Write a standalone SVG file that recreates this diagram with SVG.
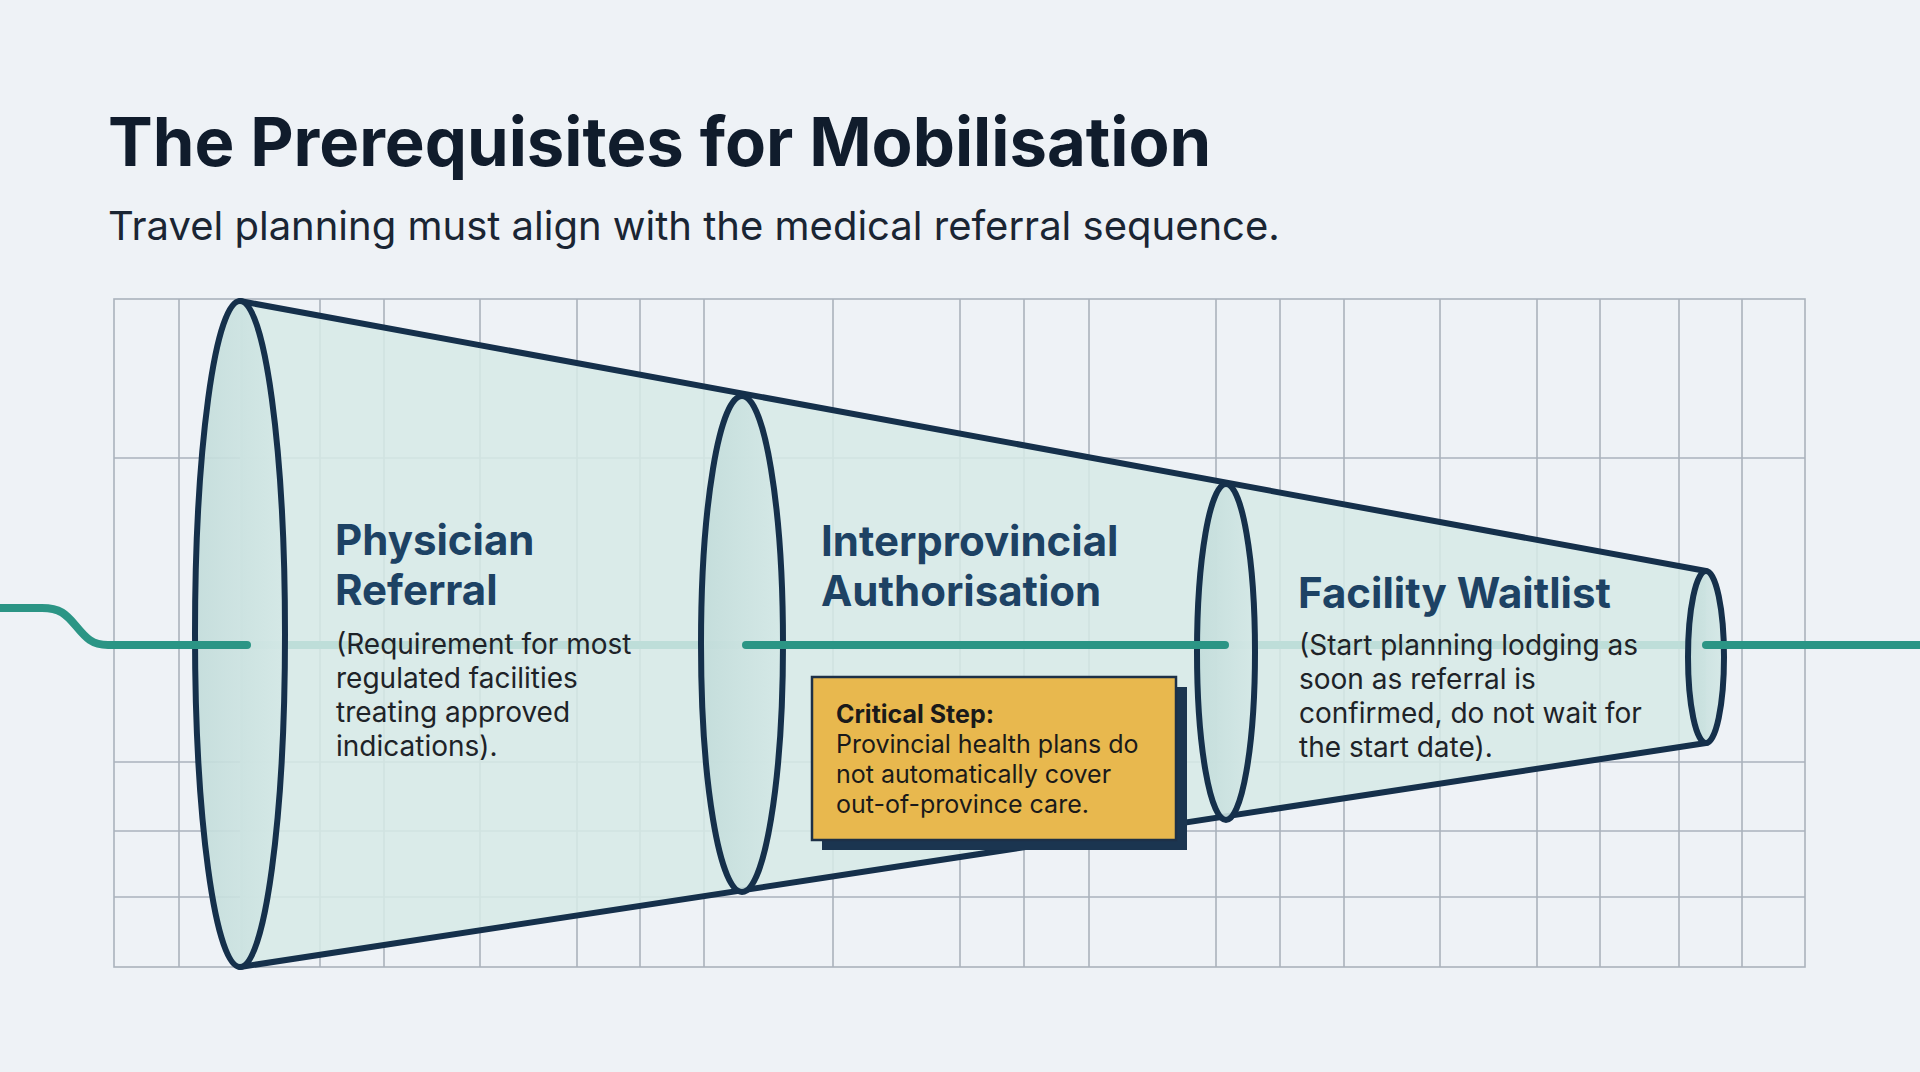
<svg xmlns="http://www.w3.org/2000/svg" width="1920" height="1072" viewBox="0 0 1920 1072">
  <defs>
    <linearGradient id="ellFill" x1="0" y1="0" x2="1" y2="0">
      <stop offset="0" stop-color="#c2dcda"/>
      <stop offset="1" stop-color="#d4e8e6"/>
    </linearGradient>
    <style>
      .bg { fill: #eef2f6; }
      .grid line, .grid rect { stroke: #aab2bc; stroke-width: 1.6; fill: none; }
      .cone { fill: #d6eae7; fill-opacity: 0.86; }
      .edge { stroke: #15304b; stroke-width: 6; stroke-linecap: round; fill: none; }
      .ring { fill: url(#ellFill); fill-opacity: 0.9; stroke: #15304b; stroke-width: 6; }
      .conn { stroke: #2b9585; stroke-width: 8; stroke-linecap: round; fill: none; }
      .title { font-family: Inter, "Liberation Sans", sans-serif; font-weight: 700; font-size: 67px; fill: #101c2c; }
      .subtitle { font-family: Inter, "Liberation Sans", sans-serif; font-weight: 400; font-size: 40px; fill: #1a2533; }
      .head { font-family: Inter, "Liberation Sans", sans-serif; font-weight: 700; font-size: 42px; fill: #1d4264; }
      .desc { font-family: Inter, "Liberation Sans", sans-serif; font-weight: 400; font-size: 28px; fill: #1e2328; }
      .callout-box { fill: #e8b84e; stroke: #1d3047; stroke-width: 2.5; }
      .callout-shadow { fill: #1b3550; }
      .callout-head { font-family: Inter, "Liberation Sans", sans-serif; font-weight: 700; font-size: 25px; fill: #1a1a1a; }
      .callout-text { font-family: Inter, "Liberation Sans", sans-serif; font-weight: 400; font-size: 25px; fill: #1a1a1a; }
    </style>
  </defs>

  <rect class="bg" x="0" y="0" width="1920" height="1072"/>

  <g id="title">
    <text class="title" x="108" y="166">The Prerequisites for Mobilisation</text>
    <text class="subtitle" x="108" y="240">Travel planning must align with the medical referral sequence.</text>
  </g>

  <g id="grid" class="grid">
    <rect x="114" y="299" width="1691" height="668"/>
    <line x1="179" y1="299" x2="179" y2="967"/>
    <line x1="242" y1="299" x2="242" y2="967"/>
    <line x1="320" y1="299" x2="320" y2="967"/>
    <line x1="384" y1="299" x2="384" y2="967"/>
    <line x1="480" y1="299" x2="480" y2="967"/>
    <line x1="577" y1="299" x2="577" y2="967"/>
    <line x1="640" y1="299" x2="640" y2="967"/>
    <line x1="704" y1="299" x2="704" y2="967"/>
    <line x1="833" y1="299" x2="833" y2="967"/>
    <line x1="960" y1="299" x2="960" y2="967"/>
    <line x1="1024" y1="299" x2="1024" y2="967"/>
    <line x1="1089" y1="299" x2="1089" y2="967"/>
    <line x1="1216" y1="299" x2="1216" y2="967"/>
    <line x1="1280" y1="299" x2="1280" y2="967"/>
    <line x1="1344" y1="299" x2="1344" y2="967"/>
    <line x1="1440" y1="299" x2="1440" y2="967"/>
    <line x1="1537" y1="299" x2="1537" y2="967"/>
    <line x1="1600" y1="299" x2="1600" y2="967"/>
    <line x1="1679" y1="299" x2="1679" y2="967"/>
    <line x1="1742" y1="299" x2="1742" y2="967"/>
    <line x1="114" y1="458" x2="1805" y2="458"/>
    <line x1="114" y1="762" x2="1805" y2="762"/>
    <line x1="114" y1="831" x2="1805" y2="831"/>
    <line x1="114" y1="897" x2="1805" y2="897"/>
  </g>

  <g id="funnel">
    <line x1="247" y1="645" x2="1706" y2="645" stroke="#2b9585" stroke-width="8"/>
    <polygon class="cone" points="240,301 1706,571 1706,743 240,967"/>
    <line class="edge" x1="240" y1="301" x2="1706" y2="571"/>
    <line class="edge" x1="240" y1="967" x2="1706" y2="743"/>
  </g>

  <g id="node-physician-referral">
    <ellipse class="ring" cx="240" cy="634" rx="45" ry="333"/>
    <text class="head" x="335" y="555">Physician</text>
    <text class="head" x="335" y="605">Referral</text>
    <text class="desc" x="336" y="654">(Requirement for most</text>
    <text class="desc" x="336" y="688">regulated facilities</text>
    <text class="desc" x="336" y="722">treating approved</text>
    <text class="desc" x="336" y="756">indications).</text>
  </g>

  <g id="node-interprovincial-authorisation">
    <ellipse class="ring" cx="742" cy="644" rx="41" ry="248"/>
    <text class="head" x="821" y="556">Interprovincial</text>
    <text class="head" x="821" y="606">Authorisation</text>
  </g>

  <g id="node-facility-waitlist">
    <ellipse class="ring" cx="1226" cy="652" rx="29" ry="168"/>
    <text class="head" x="1298" y="608">Facility Waitlist</text>
    <text class="desc" x="1299" y="655">(Start planning lodging as</text>
    <text class="desc" x="1299" y="689">soon as referral is</text>
    <text class="desc" x="1299" y="723">confirmed, do not wait for</text>
    <text class="desc" x="1299" y="757">the start date).</text>
  </g>

  <g id="node-end">
    <ellipse class="ring" cx="1706" cy="657" rx="18" ry="86"/>
  </g>

  <g id="connectors">
    <path class="conn" d="M-4,608 H42 C60,608 66,614 76,626 C86,638 92,645 108,645 H247"/>
    <path class="conn" d="M746,645 H1225"/>
    <path class="conn" d="M1706,645 H1924"/>
  </g>

  <g id="callout-critical-step">
    <rect class="callout-shadow" x="822" y="687" width="365" height="163"/>
    <rect class="callout-box" x="812" y="677" width="364" height="163"/>
    <text class="callout-head" x="836" y="723">Critical Step:</text>
    <text class="callout-text" x="836" y="753">Provincial health plans do</text>
    <text class="callout-text" x="836" y="783">not automatically cover</text>
    <text class="callout-text" x="836" y="813">out-of-province care.</text>
  </g>
</svg>
